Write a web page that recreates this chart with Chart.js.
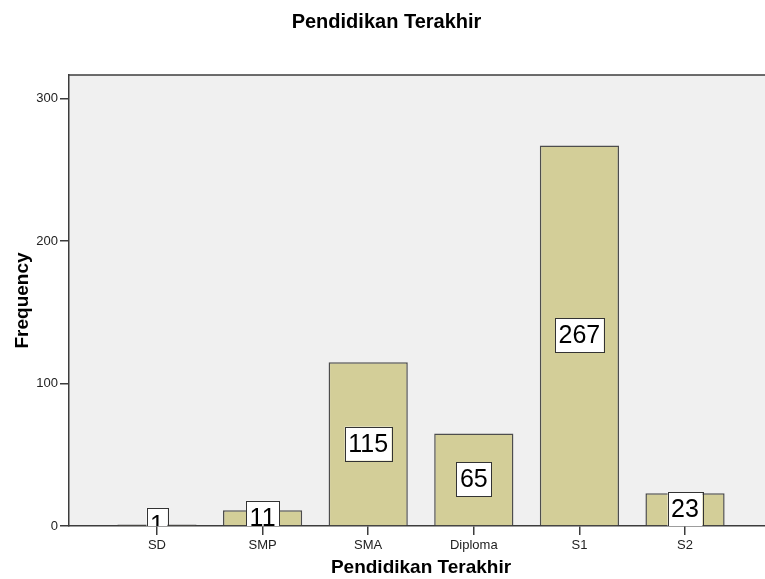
<!DOCTYPE html>
<html>
<head>
<meta charset="utf-8">
<title>Pendidikan Terakhir</title>
<script src="https://cdn.jsdelivr.net/npm/chart.js@4/dist/chart.umd.min.js"></script>
<style>
  html, body { margin: 0; padding: 0; background: #fff; overflow: hidden; }
  #wrap { width: 773px; height: 579px; }
</style>
</head>
<body>
<div id="wrap"><canvas id="eduChart" width="773" height="579"></canvas></div>
<script>
const categories = ["SD", "SMP", "SMA", "Diploma", "S1", "S2"];
const frequencies = [1, 11, 115, 65, 267, 23];
const yTickValues = [0, 100, 200, 300];

const FONT = "'Liberation Sans', Arial, sans-serif";
const AXIS = "#3c3c3c";

// grey plot background + top frame line
const plotFrame = {
  id: "plotFrame",
  beforeDraw(chart) {
    const { ctx, chartArea: a } = chart;
    ctx.save();
    ctx.fillStyle = "#f0f0f0";
    ctx.fillRect(a.left, a.top, a.right - a.left, a.bottom - a.top);
    ctx.restore();
  },
  afterDraw(chart) {
    const { ctx, chartArea: a } = chart;
    ctx.save();
    ctx.strokeStyle = AXIS;
    ctx.lineWidth = 1.5;
    ctx.beginPath();
    ctx.moveTo(a.left, a.top);
    ctx.lineTo(a.right, a.top);
    ctx.stroke();
    ctx.restore();
  }
};

// boxed value labels in the middle of each bar
const boxLabels = {
  id: "boxLabels",
  afterDatasetsDraw(chart) {
    const { ctx, chartArea: a } = chart;
    const meta = chart.getDatasetMeta(0);
    ctx.save();
    ctx.beginPath();
    ctx.rect(a.left, a.top, a.right - a.left, a.bottom - a.top);
    ctx.clip();
    ctx.font = "25px " + FONT;
    ctx.textAlign = "center";
    ctx.textBaseline = "middle";
    meta.data.forEach((bar, i) => {
      const text = String(frequencies[i]);
      const w = ctx.measureText(text).width + 7;
      const h = 34;
      const cx = bar.x;
      const cy = (bar.y + bar.base) / 2;
      ctx.fillStyle = "#ffffff";
      ctx.fillRect(cx - w / 2, cy - h / 2, w, h);
      ctx.strokeStyle = "#333333";
      ctx.lineWidth = 1;
      ctx.strokeRect(Math.round(cx - w / 2) + 0.5, Math.round(cy - h / 2) + 0.5, Math.round(w), h);
      ctx.fillStyle = "#000000";
      ctx.fillText(text, cx, cy + 1);
    });
    ctx.restore();
  }
};

new Chart(document.getElementById("eduChart"), {
  type: "bar",
  data: {
    datasets: [{
      label: "Frequency",
      data: frequencies.map((v, i) => ({ x: i, y: v })),
      backgroundColor: "#d3ce98",
      borderColor: "#4d4d4d",
      borderWidth: 1.5,
      barPercentage: 0.75,
      categoryPercentage: 1
    }]
  },
  options: {
    responsive: false,
    animation: false,
    layout: { padding: 0 },
    plugins: {
      legend: { display: false },
      tooltip: { enabled: false },
      title: {
        display: true,
        text: "Pendidikan Terakhir",
        color: "#000",
        font: { family: FONT, size: 20, weight: "bold" },
        padding: { top: 10, bottom: 41 }
      }
    },
    scales: {
      x: {
        type: "linear",
        min: -0.833,
        max: 5.833,
        offset: false,
        afterFit(scale) { scale.height = 53; },
        afterBuildTicks(scale) {
          scale.ticks = categories.map((c, i) => ({ value: i }));
        },
        ticks: {
          color: "#222",
          font: { family: FONT, size: 13 },
          padding: 3,
          maxRotation: 0,
          autoSkip: false,
          callback: (v) => categories[v]
        },
        grid: {
          offset: false,
          drawOnChartArea: false,
          drawTicks: true,
          tickLength: 9,
          color: AXIS,
          lineWidth: 1.5
        },
        border: { display: true, color: AXIS, width: 1.5 },
        title: {
          display: true,
          text: "Pendidikan Terakhir",
          color: "#000",
          font: { family: FONT, size: 19, weight: "bold" },
          padding: { top: 0, bottom: 0 }
        }
      },
      y: {
        min: 0,
        max: 316.5,
        afterFit(scale) { scale.width = 69; },
        afterBuildTicks(scale) {
          scale.ticks = yTickValues.map(v => ({ value: v }));
        },
        ticks: {
          color: "#222",
          font: { family: FONT, size: 13 },
          padding: 2
        },
        grid: {
          drawOnChartArea: false,
          drawTicks: true,
          tickLength: 9,
          color: AXIS,
          lineWidth: 1.5
        },
        border: { display: true, color: AXIS, width: 1.5 },
        title: {
          display: true,
          text: "Frequency",
          color: "#000",
          font: { family: FONT, size: 19, weight: "bold" },
          padding: { top: 11, bottom: 0 }
        }
      }
    }
  },
  plugins: [plotFrame, boxLabels]
});
</script>
</body>
</html>
